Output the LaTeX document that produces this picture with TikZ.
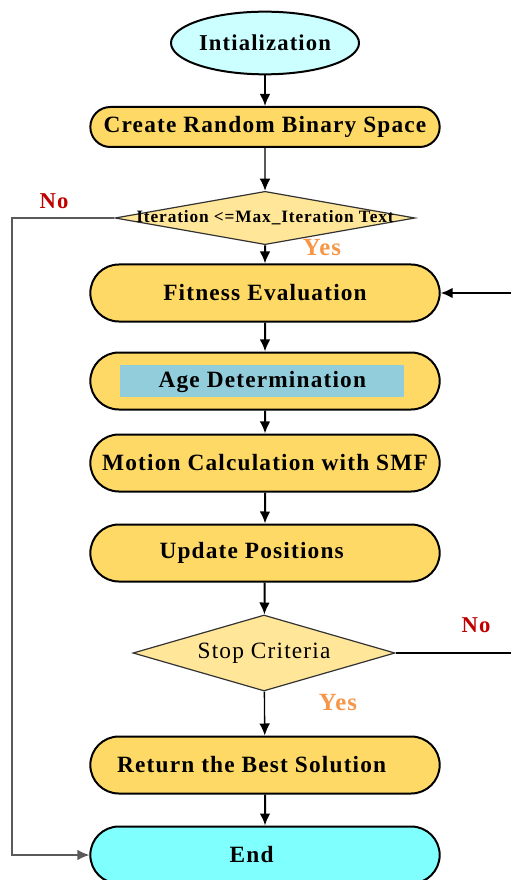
\documentclass[tikz,border=0pt]{standalone}
\usepackage{fontspec}
\setmainfont{Liberation Serif}[LetterSpace=5]
\usepackage{tikz}
\usepackage{xcolor}
\usetikzlibrary{shapes.geometric, shapes.misc, arrows.meta}
\definecolor{Box-Gold}{RGB}{255, 217, 102}
\definecolor{Dec-Gold}{RGB}{255, 230, 153}
\definecolor{Start-Cyan}{RGB}{204, 255, 255}
\definecolor{End-Cyan}{RGB}{128, 255, 255}
\definecolor{Age-Blue}{RGB}{146, 205, 220}
\definecolor{No-Red}{RGB}{192, 0, 0}
\definecolor{Yes-Orange}{RGB}{247, 150, 70}
\definecolor{Loop-Gray}{RGB}{90, 90, 90}

\tikzset{
    procbox/.style={rounded rectangle, draw, line width=1.5pt, fill=Box-Gold,
        minimum width=262pt, minimum height=42.75pt, inner sep=0pt,
        font=\fontsize{17.5}{19}\selectfont\bfseries},
    decision/.style={diamond, draw=black!80, line width=0.9pt, fill=Dec-Gold, inner sep=0pt},
    flow/.style={-{Latex[length=9pt,width=8pt]}, line width=1.5pt},
    thinflow/.style={-{Latex[length=9pt,width=8pt]}, line width=1pt},
    nolabel/.style={text=No-Red, font=\fontsize{17}{19}\selectfont\bfseries},
    yeslabel/.style={text=Yes-Orange, font=\fontsize{18.5}{20}\selectfont\bfseries}
}

\begin{document}
\begin{tikzpicture}[x=0.75pt, y=-0.75pt]

    \useasboundingbox (0,0) rectangle (511,880);

    \node[ellipse, draw, line width=1.5pt, fill=Start-Cyan, minimum width=141pt, minimum height=47pt,
        inner sep=0pt, font=\fontsize{17}{19}\selectfont\bfseries] (init) at (265,43) {Intialization};

    \node[procbox, minimum height=30pt] (create) at (265,127) {Create Random Binary Space};

    \node[decision, minimum width=225pt, minimum height=40pt,
        label={[font=\fontsize{13}{15}\selectfont\bfseries]center:Iteration <=Max\_Iteration Text}] (iter) at (265,218) {};

    \node[procbox] (fitness) at (265,293) {Fitness Evaluation};

    \node[procbox] (age) at (265,381) {\setlength{\fboxsep}{2.5pt}\colorbox{Age-Blue}{\makebox[208pt]{\rule[-5pt]{0pt}{19pt}Age Determination}}\hspace*{4pt}};

    \node[procbox] (motion) at (265,463) {Motion Calculation with SMF};

    \node[procbox] (update) at (265,553) {Update Positions\hspace*{20pt}};

    \node[decision, minimum width=196.5pt, minimum height=57pt,
        label={[font=\fontsize{17.5}{19}\selectfont]center:Stop Criteria}] (stop) at (264,653) {};

    \node[procbox] (best) at (265,765) {Return the Best Solution\hspace*{20pt}};

    \node[procbox, fill=End-Cyan] (finish) at (265,855) {End\hspace*{20pt}};

    \node[nolabel] (noiter) at (54,201) {No};
    \node[yeslabel] (yesiter) at (322,248) {Yes};
    \node[nolabel] (nostop) at (476,625) {No};
    \node[yeslabel] (yesstop) at (338,703) {Yes};

    \coordinate (leftturn) at (12,218);
    \coordinate (stopexit) at (511,653);
    \coordinate (fitentry) at (511,293);

    \draw[flow] (init) -- (create);
    \draw[thinflow] (create) -- (iter);
    \draw[flow] (iter) -- (fitness);
    \draw[flow] (fitness) -- (age);
    \draw[flow] (age) -- (motion);
    \draw[flow] (motion) -- (update);
    \draw[flow] (update) -- (stop);
    \draw[thinflow] (stop) -- (best);
    \draw[flow] (best) -- (finish);
    \draw[thinflow, draw=Loop-Gray] (iter.west) -- (leftturn) |- (finish.west);
    \draw[line width=1.5pt] (stop.east) -- (stopexit);
    \draw[flow] (fitentry) -- (fitness.east);

\end{tikzpicture}
\end{document}
